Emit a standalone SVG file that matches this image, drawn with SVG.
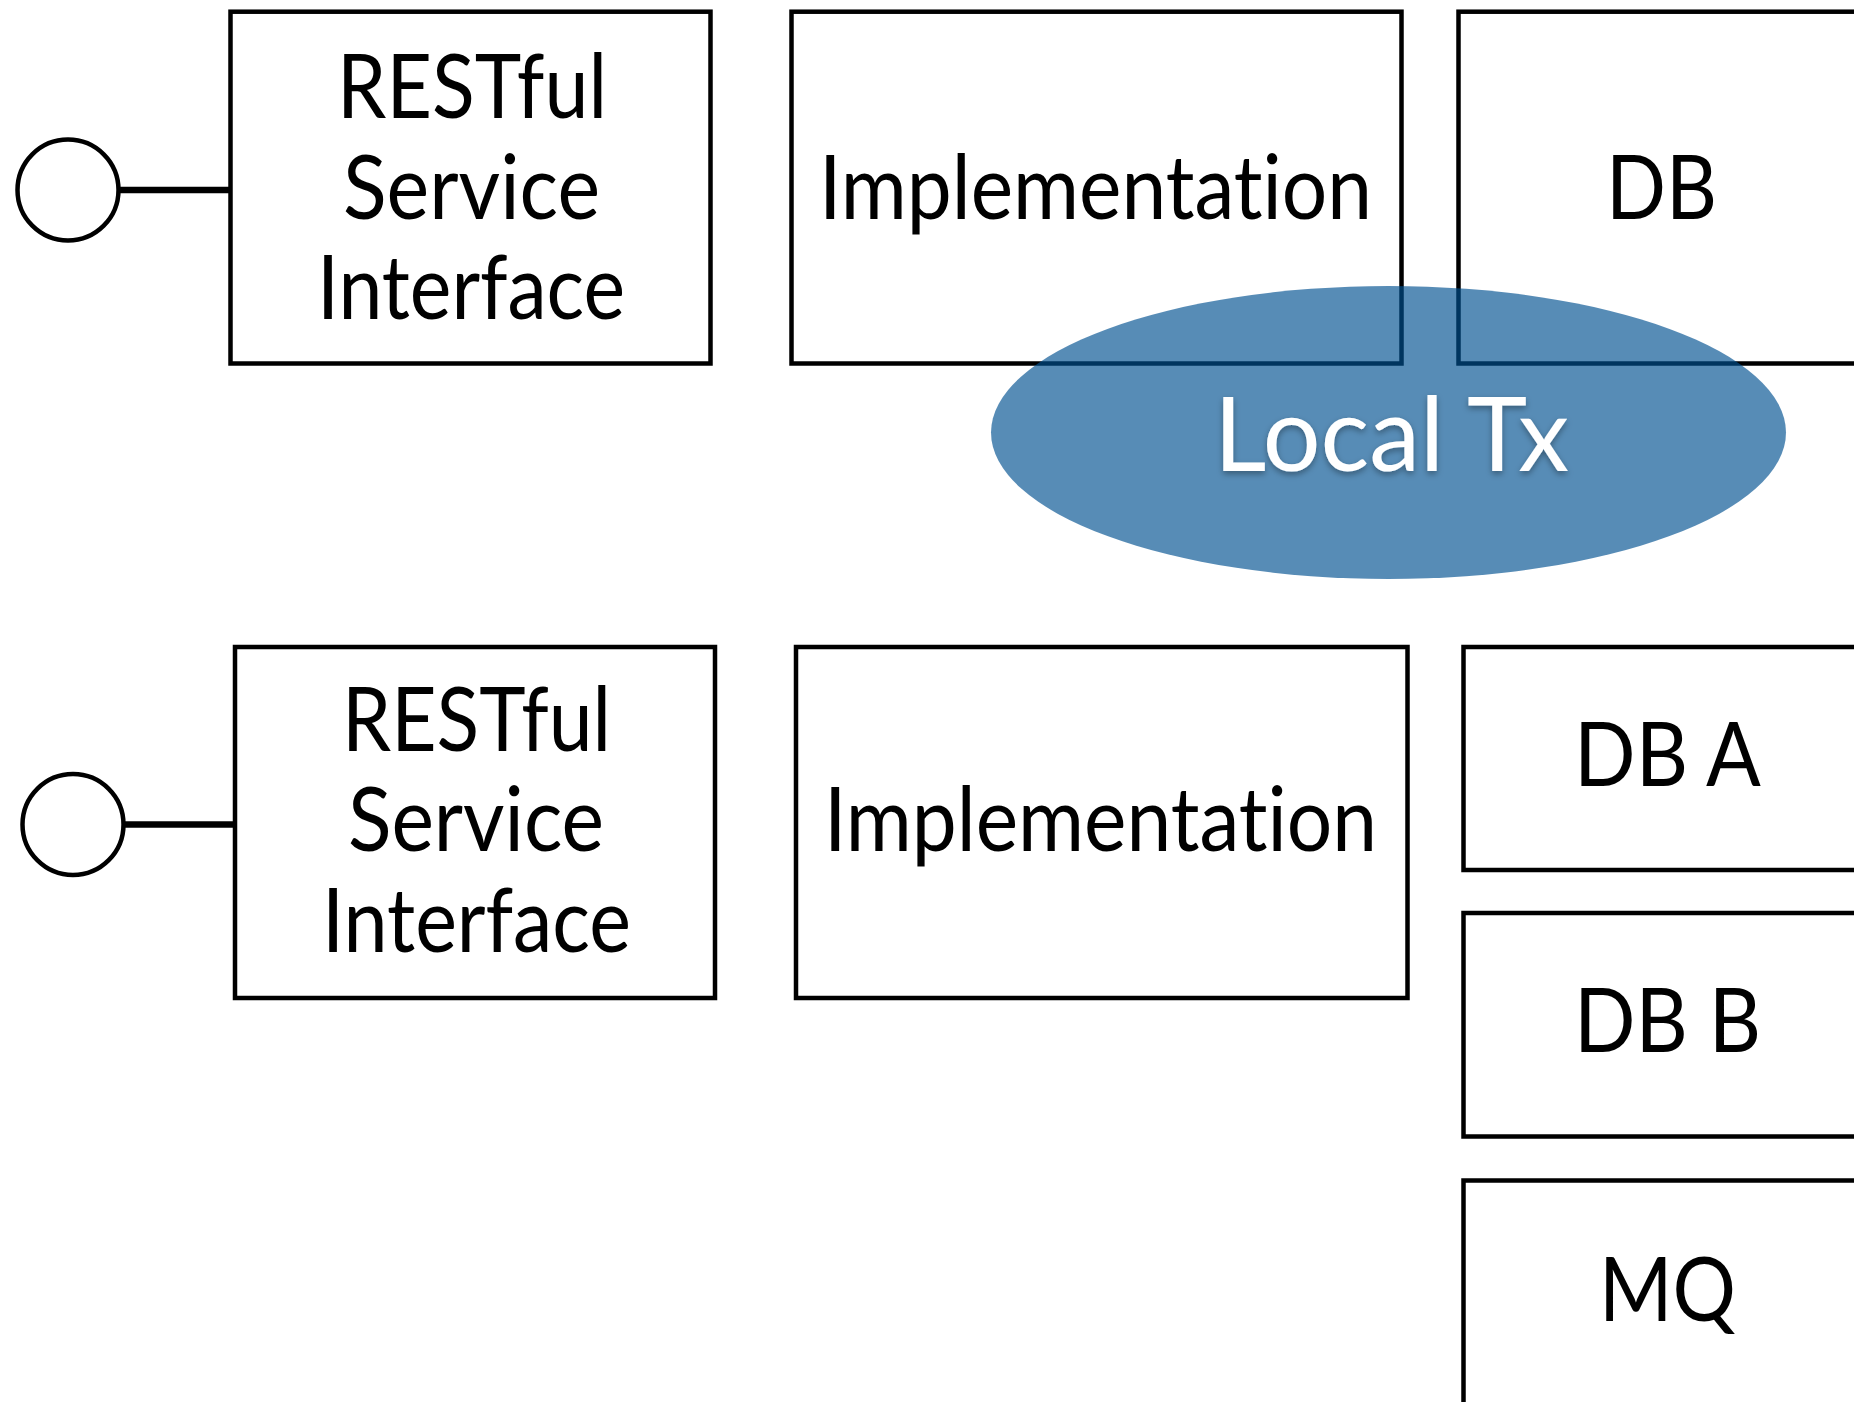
<svg xmlns="http://www.w3.org/2000/svg" width="1854" height="1402" viewBox="0 0 1854 1402">
  <style>
    .box { fill: #ffffff; stroke: #000000; stroke-width: 4.5; }
    .port { fill: #ffffff; stroke: #000000; stroke-width: 4.5; }
    .wire { stroke: #000000; stroke-width: 6.5; fill: none; }
    text { font-variant-ligatures: none; font-feature-settings: "liga" 0, "clig" 0; }
    .label { font-family: Lato, "Open Sans", "Liberation Sans", sans-serif; font-size: 90px; fill: #000000; }
    .tx { fill: rgb(0, 80, 144); fill-opacity: 0.66; }
    .txlabel { font-family: Lato, "Open Sans", "Liberation Sans", sans-serif; font-size: 102px; fill: #ffffff; }
  </style>
  <defs>
    <filter id="soft-shadow" x="-10%" y="-20%" width="120%" height="140%">
      <feDropShadow dx="0" dy="3" stdDeviation="3" flood-color="#000000" flood-opacity="0.35"/>
    </filter>
  </defs>

  <rect width="1854" height="1402" fill="#ffffff"/>

  <!-- connectors: interface ports to service boxes -->
  <g id="connectors">
    <line class="wire" x1="119" y1="190" x2="230" y2="190"/>
    <line class="wire" x1="124" y1="824.5" x2="235" y2="824.5"/>
  </g>

  <!-- upper scenario: single database -->
  <g id="port-top">
    <circle class="port" cx="68" cy="190" r="50.5"/>
  </g>
  <g id="rest-top">
    <rect class="box" x="230.5" y="11.7" width="480" height="351.8"/>
    <text class="label" x="337" y="118" textLength="270" lengthAdjust="spacingAndGlyphs">RESTful</text>
    <text class="label" x="343" y="219" textLength="257" lengthAdjust="spacingAndGlyphs">Service</text>
    <text class="label" x="317" y="319" textLength="308" lengthAdjust="spacingAndGlyphs">Interface</text>
  </g>
  <g id="impl-top">
    <rect class="box" x="791.5" y="11.7" width="610" height="351.8"/>
    <text class="label" x="819" y="219" textLength="553" lengthAdjust="spacingAndGlyphs">Implementation</text>
  </g>
  <g id="db-top">
    <rect class="box" x="1458.5" y="11.7" width="420" height="351.8"/>
    <text class="label" x="1606" y="219" textLength="111" lengthAdjust="spacingAndGlyphs">DB</text>
  </g>
  <g id="local-tx">
    <ellipse class="tx" cx="1388.5" cy="432.5" rx="397.5" ry="146.5"/>
    <text class="txlabel" x="1214" y="471" textLength="355" lengthAdjust="spacingAndGlyphs" filter="url(#soft-shadow)">Local Tx</text>
  </g>

  <!-- lower scenario: several resources -->
  <g id="port-bottom">
    <circle class="port" cx="73" cy="824.5" r="50.5"/>
  </g>
  <g id="rest-bottom">
    <rect class="box" x="235" y="647" width="480" height="351"/>
    <text class="label" x="342" y="751" textLength="269" lengthAdjust="spacingAndGlyphs">RESTful</text>
    <text class="label" x="348" y="851" textLength="256" lengthAdjust="spacingAndGlyphs">Service</text>
    <text class="label" x="322" y="952" textLength="309" lengthAdjust="spacingAndGlyphs">Interface</text>
  </g>
  <g id="impl-bottom">
    <rect class="box" x="796" y="647" width="611.5" height="351"/>
    <text class="label" x="824" y="851" textLength="553" lengthAdjust="spacingAndGlyphs">Implementation</text>
  </g>
  <g id="db-a">
    <rect class="box" x="1463.5" y="647" width="420" height="223"/>
    <text class="label" x="1574" y="786" textLength="187" lengthAdjust="spacingAndGlyphs">DB A</text>
  </g>
  <g id="db-b">
    <rect class="box" x="1463.5" y="913" width="420" height="223.5"/>
    <text class="label" x="1574" y="1052" textLength="187" lengthAdjust="spacingAndGlyphs">DB B</text>
  </g>
  <g id="mq">
    <rect class="box" x="1463.5" y="1180.5" width="420" height="240"/>
    <text class="label" x="1599" y="1321" textLength="137" lengthAdjust="spacingAndGlyphs">MQ</text>
  </g>
</svg>
